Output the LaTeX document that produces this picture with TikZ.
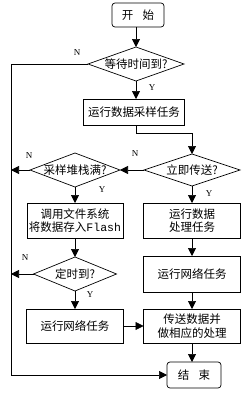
\documentclass[tikz,border=0pt]{standalone}
\usepackage{fontspec}
\setmainfont{Noto Sans CJK SC}
\newfontfamily\latinfont{Liberation Serif}
\newfontfamily\monofont{Liberation Mono}
\usetikzlibrary{shapes.geometric,arrows.meta}
\begin{document}
\begin{tikzpicture}[x=1pt,y=-1pt,
 every node/.style={font=\fontsize{11.5}{13.5}\selectfont},
 box/.style={draw, line width=0.7pt, inner sep=0pt, outer sep=0pt, align=center},
 term/.style={box, rounded corners=3pt},
 dia/.style={draw, line width=0.7pt, shape=diamond, inner xsep=-20pt, inner ysep=0pt, aspect=2.8, outer sep=0pt},
 ln/.style={line width=0.7pt},
 arr/.style={ln, -{Triangle[width=8pt,length=8pt]}},
 lab/.style={font=\latinfont\fontsize{9}{10}\selectfont, inner sep=0pt}
]
\fill[white] (0,0) rectangle (247,394);
\useasboundingbox (0,0) rectangle (247,394);

\node[term, minimum width=52pt, minimum height=24pt] (start) at (138,15) {开\hspace{0.8em}始};
\node[dia, minimum width=96pt, minimum height=34pt] (d1) at (136,64) {等待时间到?};
\node[box, minimum width=101pt, minimum height=26pt] (b1) at (134,112) {运行数据采样任务};
\node[dia, minimum width=96pt, minimum height=32pt] (d2) at (192,170) {立即传送?};
\node[dia, minimum width=90pt, minimum height=34pt] (d3) at (75,170) {采样堆栈满?};
\node[box, minimum width=96pt, minimum height=35pt] (b2) at (75,220.5) {调用文件系统\\将数据存入{\monofont Flash}};
\node[box, minimum width=97pt, minimum height=35pt] (b3) at (192,220.5) {运行数据\\处理任务};
\node[dia, minimum width=83pt, minimum height=34pt] (d4) at (75,274) {定时到?};
\node[box, minimum width=97pt, minimum height=36pt] (b4) at (192,274) {运行网络任务};
\node[box, minimum width=97pt, minimum height=34pt] (b5) at (75,326) {运行网络任务};
\node[box, minimum width=97pt, minimum height=34pt] (b6) at (192,326) {传送数据并\\做相应的处理};
\node[term, minimum width=54pt, minimum height=26pt] (end) at (194,375) {结\hspace{0.8em}束};

\coordinate (lx) at (11,0);
\coordinate (k1) at (136,133);

\draw[arr] (start.south -| d1.north) -- (d1.north);
\draw[arr] (d1.south) -- (d1.south |- b1.north);
\draw[arr] (b1.south -| d1.south) -- (k1) -| (d2.north);
\draw[arr] (d2.west) -- (d3.east);
\draw[arr] (d3.west) -- (d3.west -| lx);
\draw[arr] (d3.south) -- (b2.north);
\draw[arr] (d2.south) -- (b3.north);
\draw[arr] (b2.south) -- (d4.north);
\draw[arr] (d4.west) -- (d4.west -| lx);
\draw[arr] (d4.south) -- (b5.north);
\draw[arr] (b3.south) -- (b4.north);
\draw[arr] (b4.south) -- (b6.north);
\draw[arr] (b5.east) -- (b6.west);
\draw[arr] (b6.south) -- (b6.south |- end.north);
\draw[arr] (d1.west) -- (d1.west -| lx) -- (end.west -| lx) -- (end.west);

\node[lab] (n1) at (77,53) {N};
\node[lab] (y1) at (152,88) {Y};
\node[lab] (n2) at (135,154) {N};
\node[lab] (y2) at (209,194) {Y};
\node[lab] (n3) at (29,156) {N};
\node[lab] (y3) at (102,190) {Y};
\node[lab] (n4) at (25,258) {N};
\node[lab] (y4) at (90,295) {Y};
\end{tikzpicture}
\end{document}
